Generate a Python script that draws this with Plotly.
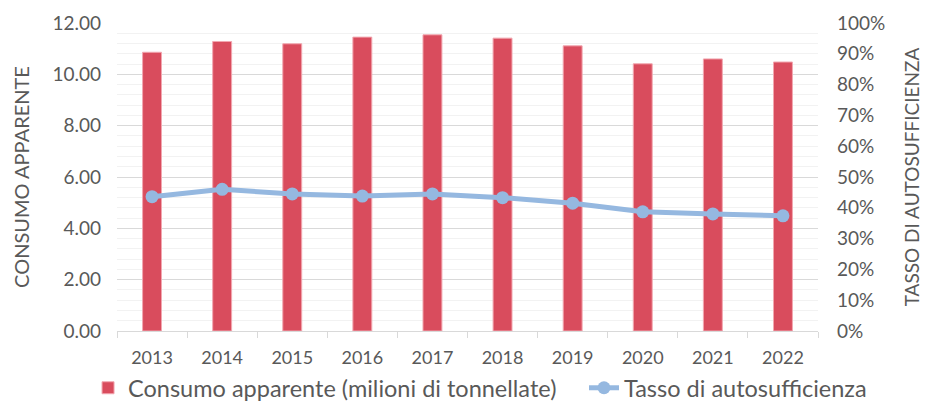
import plotly.graph_objects as go

years = ["2013", "2014", "2015", "2016", "2017", "2018", "2019", "2020", "2021", "2022"]
consumo = [10.86, 11.28, 11.19, 11.45, 11.54, 11.41, 11.11, 10.41, 10.60, 10.48]
tasso = [0.436, 0.460, 0.445, 0.438, 0.445, 0.433, 0.415, 0.387, 0.380, 0.374]

text_color = "#595959"
font_family = "Lato, 'Open Sans', sans-serif"

fig = go.Figure()
fig.add_trace(go.Bar(
    x=years, y=consumo, name="Consumo apparente (milioni di tonnellate)",
    marker=dict(color="#D94C5D", line=dict(color="#F2A7B0", width=1)),
    yaxis="y", legend="legend",
))
fig.add_trace(go.Scatter(
    x=years, y=tasso, name="Tasso di autosufficienza",
    mode="lines+markers",
    line=dict(color="#95B8E0", width=5),
    marker=dict(color="#95B8E0", size=13),
    yaxis="y2", legend="legend2",
))

legend_common = dict(orientation="h", xanchor="left", xref="container",
                     y=0.038, yanchor="middle", yref="container",
                     font=dict(size=23.5, color=text_color), itemwidth=30,
                     bgcolor="rgba(0,0,0,0)")

# page body adds an 8px offset; figure sized so it fits the 929x403 window
fig.update_layout(
    width=921, height=395,
    margin=dict(l=109, r=111, t=15, b=72, autoexpand=False),
    paper_bgcolor="white", plot_bgcolor="white",
    font=dict(family=font_family, color=text_color, size=18),
    bargap=0.73,
    showlegend=True,
    legend=dict(x=0.0869, **legend_common),
    legend2=dict(x=0.6254, **legend_common),
    xaxis=dict(
        range=[-0.5, 9.5],
        showline=True, linecolor="#d9d9d9", linewidth=1,
        ticks="outside", tickson="boundaries", ticklen=6, tickcolor="#d9d9d9",
        tickfont=dict(size=18, color=text_color), showgrid=False,
        automargin=False, ticklabelstandoff=10,
    ),
    yaxis=dict(
        range=[0, 12], dtick=2, tickformat=".2f",
        showgrid=True, gridcolor="#d9d9d9", gridwidth=1,
        minor=dict(dtick=0.4, showgrid=True, gridcolor="#f2f2f2", gridwidth=1),
        zeroline=False, automargin=False,
        tickfont=dict(size=19, color=text_color),
        title=dict(text="CONSUMO APPARENTE", font=dict(size=20, color=text_color), standoff=17),
        ticklabelstandoff=15,
    ),
    yaxis2=dict(
        range=[0, 1], dtick=0.1, tickformat=".0%",
        overlaying="y", side="right", showgrid=False, zeroline=False,
        automargin=False,
        tickfont=dict(size=19, color=text_color),
        title=dict(text="TASSO DI AUTOSUFFICIENZA", font=dict(size=19, color=text_color), standoff=21),
        ticklabelstandoff=18,
    ),
)

fig.write_html("out.html")
